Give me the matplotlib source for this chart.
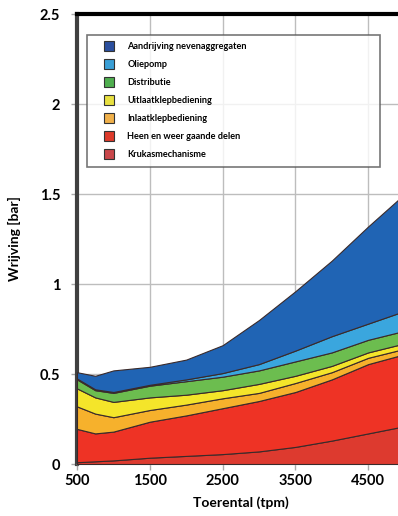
import numpy as np
import matplotlib
matplotlib.use('Agg')
from matplotlib import pyplot as plt
from matplotlib.lines import Line2D

# toerental punten (tpm)
rpm = [500, 750, 1000, 1500, 2000, 2500, 3000, 3500, 4000, 4500, 5000]

# bovengrens van elke laag (gestapeld, bar)
kruk_top = [0.01, 0.015, 0.02, 0.035, 0.045, 0.055, 0.07, 0.095, 0.13, 0.17, 0.21]
heen_top = [0.195, 0.17, 0.18, 0.235, 0.27, 0.31, 0.35, 0.40, 0.47, 0.555, 0.61]
inlaat_top = [0.32, 0.28, 0.26, 0.30, 0.33, 0.365, 0.395, 0.45, 0.51, 0.59, 0.64]
uitlaat_top = [0.42, 0.37, 0.345, 0.37, 0.385, 0.41, 0.445, 0.49, 0.545, 0.62, 0.67]
distributie_top = [0.47, 0.41, 0.395, 0.435, 0.46, 0.485, 0.52, 0.57, 0.62, 0.69, 0.74]
oliepomp_top = [0.475, 0.415, 0.40, 0.44, 0.47, 0.505, 0.555, 0.63, 0.71, 0.78, 0.85]
aandrijving_top = [0.51, 0.49, 0.52, 0.54, 0.58, 0.66, 0.80, 0.96, 1.13, 1.32, 1.50]

labels = ['Krukasmechanisme', 'Heen en weer gaande delen', 'Inlaatklepbediening',
          'Uitlaatklepbediening', 'Distributie', 'Oliepomp', 'Aandrijving nevenaggregaten']
colors = ['#dd3a2f', '#ee3325', '#f6b12c', '#f4e52a', '#6cbd4f', '#3aa6de', '#2064b4']
legend_colors = ['#c9474b', '#dd3a2a', '#f0b04a', '#e8e040', '#4fae4f', '#3a9fd6', '#2b4f9e']

tops = [kruk_top, heen_top, inlaat_top, uitlaat_top, distributie_top, oliepomp_top, aandrijving_top]

plt.rcParams['font.family'] = ['Lato', 'DejaVu Sans']
plt.rcParams['font.weight'] = 'bold'

fig = plt.figure(figsize=(3.98, 5.16), dpi=100)
ax = fig.add_axes([77/398, 52/516, 327.6/398, 450/516])

# gestapelde vlakken
lower = np.zeros(len(rpm))
for top, c in zip(tops, colors):
    ax.fill_between(rpm, lower, top, facecolor=c, edgecolor='#3a2a2a', linewidth=0.8, zorder=3)
    lower = np.array(top)

ax.set_xlim(500, 5000)
ax.set_ylim(0, 2.5)
ax.set_xticks([500, 1500, 2500, 3500, 4500])
ax.set_yticks([0, 0.5, 1, 1.5, 2, 2.5])
ax.set_yticklabels(['0', '0.5', '1', '1.5', '2', '2.5'])
ax.grid(True, color='#bdbdbd', linewidth=1.0, zorder=0)
ax.set_axisbelow(True)

ax.tick_params(axis='both', colors='#aaaaaa', length=4, width=1, labelsize=10.5, labelcolor='black')
ax.tick_params(axis='y', pad=8)

ax.spines['left'].set_color('#404040')
ax.spines['left'].set_linewidth(3)
ax.spines['top'].set_color('black')
ax.spines['top'].set_linewidth(3)
ax.spines['right'].set_visible(False)
ax.spines['bottom'].set_color('#cccccc')
ax.spines['bottom'].set_linewidth(1)

ax.set_xlabel('Toerental (tpm)', fontsize=10, fontweight='bold', labelpad=6)
ax.set_ylabel('Wrijving [bar]', fontsize=10, fontweight='bold')
ax.yaxis.set_label_coords(-0.171, 0.5)

# legenda, bovenste laag eerst
handles = [Line2D([], [], linestyle='none', marker='s', markersize=7, markerfacecolor=legend_colors[i],
                  markeredgecolor='#333333', markeredgewidth=0.8, label=labels[i])
           for i in range(len(labels) - 1, -1, -1)]
leg = ax.legend(handles=handles, loc='upper left', bbox_to_anchor=(0.03, 0.66, 0.894, 0.293),
                mode='expand', fontsize=6.6, frameon=True, fancybox=False, borderaxespad=0,
                labelspacing=0.98, handlelength=3.27, handletextpad=0.35, borderpad=0.8)
leg.get_frame().set_edgecolor('#555555')
leg.get_frame().set_linewidth(1.2)
leg.set_zorder(5)
for t in leg.get_texts():
    t.set_fontweight('bold')

plt.savefig('out.png', dpi=100)
